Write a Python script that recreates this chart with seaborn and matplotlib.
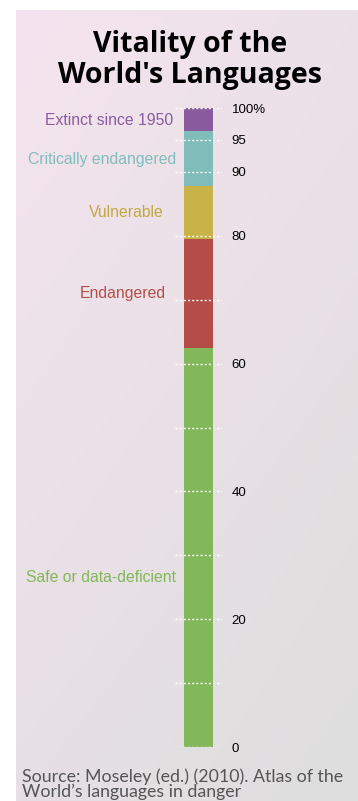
import numpy as np
import pandas as pd
import matplotlib
matplotlib.use("Agg")
import matplotlib.pyplot as plt
import matplotlib.transforms as mtransforms
import seaborn as sns

# ---- data ----
categories = ["Safe or data-deficient", "Endangered", "Vulnerable",
              "Critically endangered", "Extinct since 1950"]
shares = [62.4, 17.1, 8.3, 8.6, 3.6]          # percent of world's languages
bar_colors = ["#82b75a", "#b44d48", "#c8b348", "#80bcb9", "#8a5a9f"]
label_colors = ["#82b75a", "#b44d48", "#c2a841", "#80bdbd", "#8a5ca0"]
label_y = [26.6, 71.0, 83.6, 92.0, 98.1]
major_ticks = [0, 20, 40, 60, 80, 90, 95, 100]
major_labels = ["0", "20", "40", "60", "80", "90", "95", "100%"]
minor_ticks = [10, 30, 50, 70]
title = "Vitality of the\nWorld's Languages"
source = "Source: Moseley (ed.) (2010). Atlas of the\nWorld\u2019s languages in danger"

W, H = 358, 801
fig = plt.figure(figsize=(W / 100, H / 100), dpi=100)
fig.patch.set_facecolor("white")

# background gradient panel
bg = fig.add_axes([16 / W, 0, 1 - 16 / W, (H - 10) / H], zorder=-5)
tl = np.array([245, 228, 239]) / 255
tr = np.array([236, 225, 231]) / 255
bl = np.array([230, 224, 228]) / 255
br = np.array([222, 222, 222]) / 255
ny, nx = 100, 50
yy, xx = np.meshgrid(np.linspace(0, 1, ny), np.linspace(0, 1, nx), indexing="ij")
grad = ((1 - yy)[..., None] * ((1 - xx)[..., None] * tl + xx[..., None] * tr)
        + yy[..., None] * ((1 - xx)[..., None] * bl + xx[..., None] * br))
bg.imshow(grad, aspect="auto", extent=[0, 1, 0, 1], interpolation="bilinear")
bg.set_axis_off()

# main axes
y0_px, y100_px = 747, 108
x_left, x_right = 175, 222
ax = fig.add_axes([x_left / W, (H - y0_px) / H, (x_right - x_left) / W,
                   (y0_px - y100_px) / H])
ax.patch.set_alpha(0)

df = pd.DataFrame({"cat": categories, "share": shares})
df["top"] = df["share"].cumsum()
df["x"] = "all"
for i in range(len(df) - 1, -1, -1):
    sns.barplot(data=df.iloc[[i]], x="x", y="top", color=bar_colors[i],
                width=0.63, saturation=1, ax=ax, zorder=1)

ax.set_xlim(-0.5, 0.5)
ax.set_ylim(0, 100)
ax.set_xlabel("")
ax.set_ylabel("")
ax.set_xticks([])
for s in ax.spines.values():
    s.set_visible(False)
ax.yaxis.tick_right()
ax.set_yticks(major_ticks)
ax.set_yticklabels(major_labels)
ax.set_yticks(minor_ticks, minor=True)
ax.tick_params(axis="y", which="both", length=0, pad=7, labelsize=9.5,
               labelcolor="black")
for t in ax.get_yticklabels():
    t.set_fontfamily("Liberation Sans")
ax.set_axisbelow(False)
ax.grid(True, axis="y", which="both", color="white", linestyle=(0, (1.5, 1.5)),
        linewidth=1.0, zorder=5)

# category labels
trans = mtransforms.blended_transform_factory(fig.transFigure, ax.transData)
label_right_px = [176, 166, 164, 176, 173]
for cat, ly, col, rx in zip(categories, label_y, label_colors, label_right_px):
    fig.text(rx / W, ly, cat, color=col, ha="right", va="center",
             fontsize=11.3, family="Liberation Sans", transform=trans)

# title
fig.text(190 / W, 1 - 60 / H, title, ha="center", va="center",
         fontsize=20.5, fontweight="bold", family="Open Sans",
         linespacing=1.1, color="black")

# source
fig.text(22 / W, 1 - 784 / H, source, ha="left", va="center",
         fontsize=12.8, family="Lato", color="#555555", linespacing=0.88)

fig.savefig("out.png", dpi=100, facecolor=fig.get_facecolor())
